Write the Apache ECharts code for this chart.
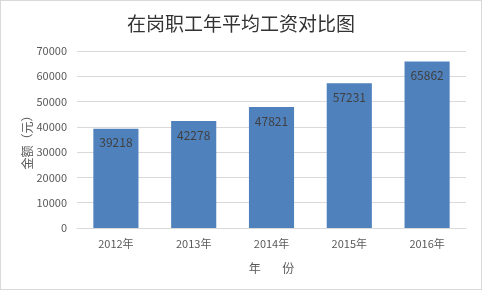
<!DOCTYPE html>
<html><head><meta charset="utf-8">
<script src="https://cdn.jsdelivr.net/npm/echarts@6/dist/echarts.min.js"></script>
<style>html,body{margin:0;padding:0;background:#fff}#c{width:480px;height:288px;border:1px solid #d9d9d9}</style>
</head><body><div id="c"></div>
<script>
const categories = ['2012年','2013年','2014年','2015年','2016年'];
const values = [39218, 42278, 47821, 57231, 65862];
const chart = echarts.init(document.getElementById('c'));
const font = '"Microsoft YaHei","Noto Sans CJK SC",sans-serif';
chart.setOption({
  animation:false,
  title:{text:'在岗职工年平均工资对比图',left:'center',top:8,textStyle:{fontFamily:font,fontSize:19,fontWeight:'normal',color:'#333'}},
  grid:{left:76,right:15,top:50,bottom:61},
  xAxis:{type:'category',data:categories,name:'年        份',nameLocation:'middle',nameGap:34,nameMoveOverlap:false,
    nameTextStyle:{fontFamily:font,fontSize:12,color:'#595959'},
    axisLine:{lineStyle:{color:'#d9d9d9'}},axisTick:{show:false},
    axisLabel:{fontFamily:font,fontSize:11,color:'#595959',margin:10}},
  yAxis:{type:'value',min:0,max:70000,interval:10000,name:'金额（元）',nameLocation:'middle',nameGap:44,nameRotate:90,nameMoveOverlap:false,
    nameTextStyle:{fontFamily:font,fontSize:12,color:'#595959'},
    axisLine:{show:false},axisTick:{show:false},
    axisLabel:{fontFamily:font,fontSize:11,color:'#595959',margin:10,formatter:v=>String(v)},
    splitLine:{lineStyle:{color:'#d9d9d9'}}},
  series:[{type:'bar',data:values,barWidth:'58%',itemStyle:{color:'#4f81bd'},
    label:{show:true,position:'insideTop',distance:8,fontFamily:font,fontSize:12,color:'#404040'}}]
});
</script></body></html>
